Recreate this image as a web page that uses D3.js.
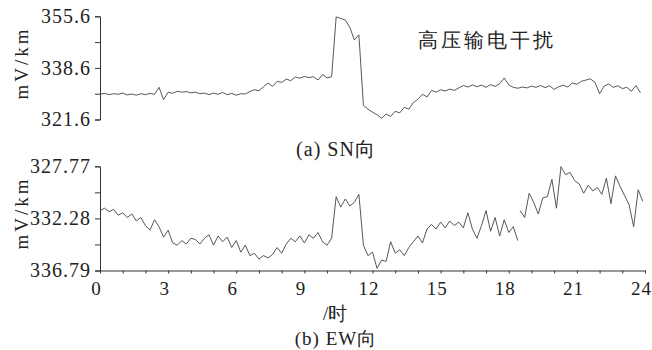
<!DOCTYPE html>
<html>
<head>
<meta charset="utf-8">
<script src="https://cdn.jsdelivr.net/npm/d3@7"></script>
<style>
  body { margin: 0; background: #fff; }
  svg { display: block; }
  text { font-family: "Liberation Serif", "Times New Roman", serif; fill: #222; }
</style>
</head>
<body>
<svg id="chart" width="652" height="350"></svg>
<script>
// hours on the x axis
const hourTicks = [0,1,2,3,4,5,6,7,8,9,10,11,12,13,14,15,16,17,18,19,20,21,22,23,24];
const hourLabels = [0,3,6,9,12,15,18,21,24];

// y ticks (labelled + unlabelled middle ticks)
const snTicks = [321.6, 338.6, 355.6];
const snMinor = [330.1, 347.1];
const ewTicks = [327.77, 332.28, 336.79];
const ewMinor = [330.025, 334.535];

// samples every 0.2 h
const step = 0.2;

// (a) SN, from 0 h
const snStart = 0;
const snValues = [
  330.0, 330.2, 329.8, 330.1, 329.9, 330.3, 329.7, 330.0, 329.6, 330.1,
  329.8, 330.2, 329.9, 332.2, 328.1, 330.6, 330.2, 330.9, 330.6, 330.8,
  330.4, 330.6, 330.1, 330.3, 329.8, 330.3, 329.9, 330.5, 329.8, 330.2,
  329.6, 330.1, 330.0, 330.8, 331.4, 331.1, 332.4, 333.6, 332.5, 334.2,
  333.8, 334.9, 334.4, 335.6, 335.2, 335.8, 335.4, 335.7, 334.6, 336.4,
  335.3, 335.7, 355.4, 354.9, 354.4, 352.0, 347.8, 349.5, 326.3, 325.0,
  324.0, 323.2, 322.0, 323.4, 322.6, 324.3, 323.8, 325.6, 325.0, 327.2,
  328.3, 329.9, 329.0, 331.2, 330.6, 331.4, 331.0, 331.6, 331.2, 332.0,
  332.8, 332.3, 333.0, 332.4, 332.9, 332.2, 333.1, 332.5, 333.4, 335.3,
  333.0, 332.2, 331.9, 332.3, 332.0, 332.6, 332.2, 332.8, 332.1, 332.7,
  331.5, 332.4, 332.9, 332.3, 333.6, 333.2, 334.2, 334.6, 335.0, 333.8,
  330.1, 332.6, 333.3, 332.2, 332.7, 331.8, 332.2, 330.9, 332.8, 330.4
];

// (b) EW, two pieces with a short break near 18.4 h
const ewStartA = 0;
const ewValuesA = [
  331.6, 331.4, 331.7, 331.5, 332.0, 331.8, 332.2, 331.9, 332.5, 332.2,
  332.9, 333.3, 332.4, 333.0, 333.9, 333.3, 334.4, 334.6, 334.2, 334.5,
  334.0, 334.1, 334.5, 334.0, 333.7, 334.6, 333.8, 334.3, 333.9, 334.8,
  334.2, 335.2, 334.6, 335.5, 335.3, 335.8, 335.5, 335.7, 335.4, 334.8,
  335.3, 334.5, 334.0, 334.3, 333.8, 334.4, 333.7, 334.0, 333.5, 334.3,
  334.6, 334.0, 330.4, 331.3, 330.6, 331.2, 330.9, 330.2, 334.6, 335.5,
  335.2, 336.6, 335.9, 336.0, 334.3, 335.3, 335.0, 335.5, 334.8, 334.3,
  333.8, 334.4, 333.2, 332.8, 333.2, 332.6, 333.1, 332.5, 332.9, 332.6,
  333.1, 331.8, 333.2, 334.0, 332.9, 331.6, 333.4, 332.2, 333.8, 332.4,
  333.5, 333.0, 334.2
];
const ewStartB = 18.5;
const ewValuesB = [
  331.6, 332.2, 330.1, 330.9, 331.9, 330.5, 330.4, 328.9, 331.4, 327.8,
  328.5, 328.3, 329.0, 329.3, 330.1, 329.4, 329.9, 329.6, 330.2, 328.8,
  331.0, 328.6, 329.5, 330.3, 331.1, 333.0, 329.8, 330.8
];

const toPoints = (start, vals) => vals.map((v, i) => [start + i * step, v]);

const svg = d3.select('#chart');
const left = 100, right = 645;

const x = d3.scaleLinear().domain([0, 24]).range([left, right]);
const ySN = d3.scaleLinear().domain([321.6, 355.6]).range([119.5, 16.3]);
const yEW = d3.scaleLinear().domain([327.77, 336.79]).range([166.3, 270.5]);

function yAxis(scale, ticks, minor, fmt) {
  const g = svg.append('g').attr('transform', `translate(${left},0)`);
  g.call(d3.axisLeft(scale).tickValues(ticks).tickSize(5).tickSizeOuter(5)
      .tickPadding(4).tickFormat(fmt));
  g.append('g').call(d3.axisLeft(scale).tickValues(minor).tickSize(5)
      .tickSizeOuter(0).tickFormat(''))
    .select('.domain').remove();
  g.selectAll('path, line').attr('stroke', '#333').attr('stroke-width', 1);
  g.selectAll('text').attr('font-size', 20).attr('letter-spacing', 1)
    .attr('fill', '#222').attr('font-family', '"Liberation Serif", serif');
  return g;
}

yAxis(ySN, snTicks, snMinor, d3.format('.1f'));
yAxis(yEW, ewTicks, ewMinor, d3.format('.2f'));

// x axis under the lower panel
const gx = svg.append('g').attr('transform', `translate(0,${yEW.range()[1]})`);
gx.call(d3.axisBottom(x).tickValues(hourTicks).tickSize(3).tickSizeOuter(0)
    .tickPadding(8).tickFormat(d => hourLabels.includes(d) ? d : ''));
gx.selectAll('path, line').attr('stroke', '#333').attr('stroke-width', 1);
gx.selectAll('text').attr('font-size', 19).attr('dx', -4).attr('letter-spacing', 1)
  .attr('fill', '#222').attr('font-family', '"Liberation Serif", serif');

// the two traces
const lineSN = d3.line().x(d => x(d[0])).y(d => ySN(d[1]));
const lineEW = d3.line().x(d => x(d[0])).y(d => yEW(d[1]));

svg.append('path').datum(toPoints(snStart, snValues))
  .attr('d', lineSN).attr('fill', 'none').attr('stroke', '#444').attr('stroke-width', 0.9);
[toPoints(ewStartA, ewValuesA), toPoints(ewStartB, ewValuesB)].forEach(pts => {
  svg.append('path').datum(pts)
    .attr('d', lineEW).attr('fill', 'none').attr('stroke', '#444').attr('stroke-width', 0.9);
});

// y titles
[63, 213].forEach(cy => {
  svg.append('text')
    .attr('transform', `translate(28,${cy}) rotate(-90)`)
    .attr('text-anchor', 'middle')
    .attr('font-family', '"Liberation Serif", serif')
    .attr('font-size', 19).attr('letter-spacing', 3)
    .text('mV/km');
});

// annotations
svg.append('text').attr('x', 418).attr('y', 47)
  .attr('font-family', '"Noto Sans CJK SC", sans-serif')
  .attr('font-size', 20).attr('letter-spacing', 3).attr('font-weight', 300)
  .text('高压输电干扰');

svg.append('text').attr('x', 336).attr('y', 156).attr('text-anchor', 'middle')
  .attr('font-size', 20).attr('letter-spacing', 1)
  .attr('font-family', '"Liberation Serif", "Noto Sans CJK SC", serif')
  .text('(a) SN向');

svg.append('text').attr('x', 323).attr('y', 320)
  .attr('font-size', 19)
  .attr('font-family', '"Liberation Serif", "Noto Sans CJK SC", serif')
  .text('/时');

svg.append('text').attr('x', 336).attr('y', 345).attr('text-anchor', 'middle')
  .attr('font-size', 19).attr('letter-spacing', 1)
  .attr('font-family', '"Liberation Serif", "Noto Sans CJK SC", serif')
  .text('(b) EW向');
</script>
</body>
</html>
